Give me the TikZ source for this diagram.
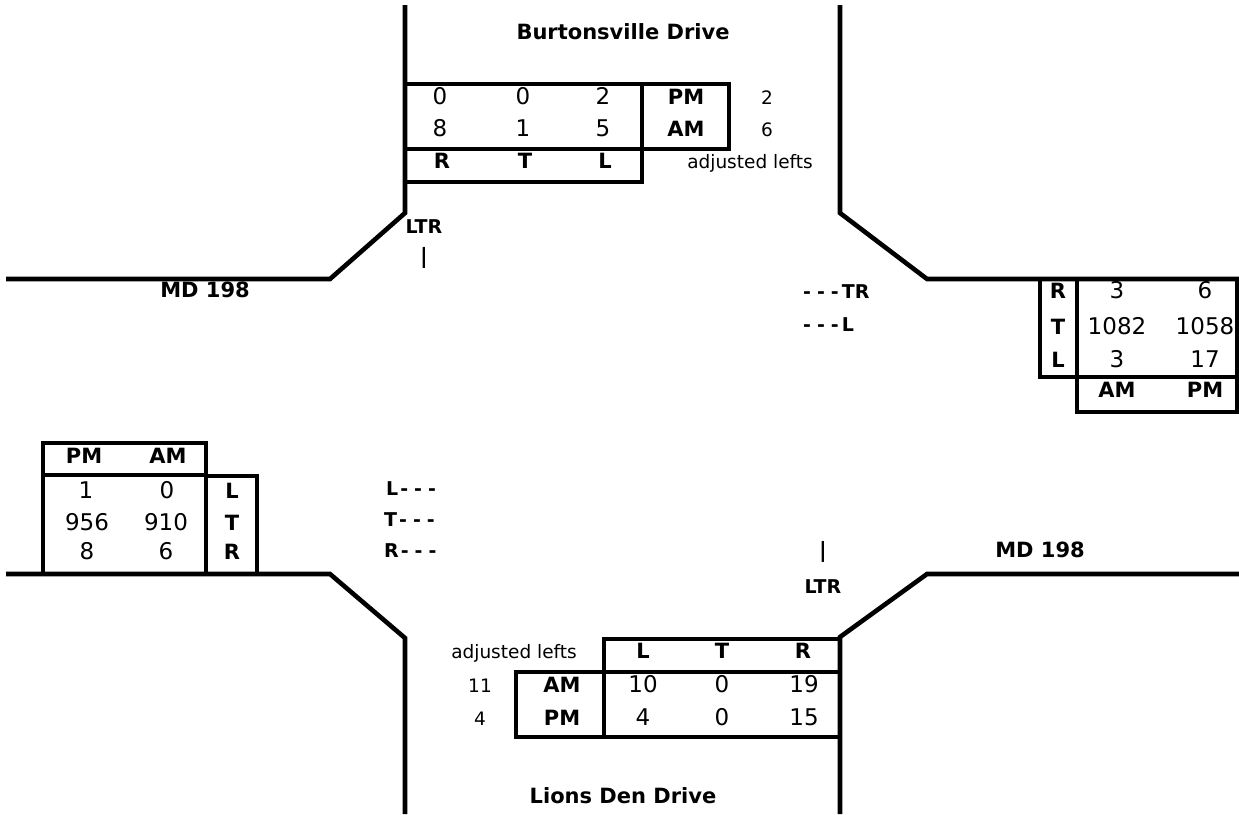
\documentclass[tikz,border=0pt]{standalone}
\usepackage{fontspec}
\setmainfont{DejaVu Sans}
\begin{document}
\begin{tikzpicture}[x=1pt,y=-1pt,
  road/.style={line width=4.6pt},
  tbl/.style={line width=3.3pt},
  txt/.style={inner sep=0pt,anchor=base},
  num/.style={txt,font=\fontsize{23}{23}\selectfont},
  lab/.style={txt,font=\bfseries\fontsize{21}{21}\selectfont},
  sml/.style={txt,font=\fontsize{18.5}{18.5}\selectfont},
  ttl/.style={txt,font=\bfseries\fontsize{21}{21}\selectfont},
  mov/.style={txt,font=\bfseries\fontsize{19}{19}\selectfont},
  bar/.style={inner sep=0pt,anchor=center,font=\bfseries\fontsize{21}{21}\selectfont}]
\useasboundingbox (0,0) rectangle (1239,814);
\fill[white] (0,0) rectangle (1239,814);
% roads
\draw[road] (405,5) -- (405,213) -- (330,279) -- (6,279);
\draw[road] (840,5) -- (840,213) -- (927,279) -- (1239,279);
\draw[road] (6,574) -- (330,574) -- (405,638) -- (405,814);
\draw[road] (1239,574) -- (927,574) -- (840,637) -- (840,814);
% top table
\draw[tbl] (405,84) rectangle (729,149);
\draw[tbl] (405,149) rectangle (642,182);
\draw[tbl] (642,84) -- (642,149);
% right table
\draw[tbl] (1040,279) -- (1040,377) -- (1237,377);
\draw[tbl] (1077,279) -- (1077,412) -- (1237,412) -- (1237,279);
% left table
\draw[tbl] (43,443) rectangle (206,475);
\draw[tbl] (43,475) -- (43,574);
\draw[tbl] (206,475) -- (206,574);
\draw[tbl] (206,476) -- (257,476) -- (257,574);
% bottom table
\draw[tbl] (604,639) rectangle (840,672);
\draw[tbl] (516,672) rectangle (840,737);
\draw[tbl] (604,672) -- (604,737);
% top texts
\node[ttl] (nname) at (623,39) {Burtonsville Drive};
\node[num] (n11) at (440,104) {0};
\node[num] (n12) at (523,104) {0};
\node[num] (n13) at (603,104) {2};
\node[lab] (n14) at (686,104) {PM};
\node[sml] (n15) at (767,104) {2};
\node[num] (n21) at (440,136) {8};
\node[num] (n22) at (523,136) {1};
\node[num] (n23) at (603,136) {5};
\node[lab] (n24) at (686,136) {AM};
\node[sml] (n25) at (767,136) {6};
\node[lab] (n31) at (442,168) {R};
\node[lab] (n32) at (525,168) {T};
\node[lab] (n33) at (605,168) {L};
\node[sml] (n34) at (750,168) {adjusted lefts};
\node[mov] (nltr) at (424,233) {LTR};
\node[bar] (nbar) at (424,258) {|};
% west
\node[ttl] (wname) at (205,297) {MD 198};
% east
\node[mov,anchor=base west] (etr) at (803,298) {-\kern6pt-\kern6pt-\kern3pt TR};
\node[mov,anchor=base west] (el) at (803,331) {-\kern6pt-\kern6pt-\kern3pt L};
\node[lab] (e1) at (1058,298) {R};
\node[lab] (e2) at (1058,334) {T};
\node[lab] (e3) at (1058,367) {L};
\node[num] (e11) at (1117,298) {3};
\node[num] (e12) at (1205,298) {6};
\node[num] (e21) at (1117,334) {1082};
\node[num] (e22) at (1205,334) {1058};
\node[num] (e31) at (1117,367) {3};
\node[num] (e32) at (1205,367) {17};
\node[lab] (e41) at (1117,397) {AM};
\node[lab] (e42) at (1205,397) {PM};
% west table
\node[lab] (w01) at (84,463) {PM};
\node[lab] (w02) at (168,463) {AM};
\node[num] (w11) at (86,498) {1};
\node[num] (w12) at (167,498) {0};
\node[lab] (w13) at (232,498) {L};
\node[num] (w21) at (87,530) {956};
\node[num] (w22) at (166,530) {910};
\node[lab] (w23) at (232,530) {T};
\node[num] (w31) at (87,559) {8};
\node[num] (w32) at (166,559) {6};
\node[lab] (w33) at (232,559) {R};
\node[mov,anchor=base west] (wl) at (386,495) {L\kern2pt-\kern6pt-\kern6pt-};
\node[mov,anchor=base west] (wt) at (384,526) {T\kern2pt-\kern6pt-\kern6pt-};
\node[mov,anchor=base west] (wr) at (384,557) {R\kern2pt-\kern6pt-\kern6pt-};
% south east
\node[bar] (sbar) at (823,552) {|};
\node[mov] (sltr) at (823,593) {LTR};
\node[ttl] (ename) at (1040,557) {MD 198};
% bottom table
\node[sml] (s01) at (514,658) {adjusted lefts};
\node[lab] (s02) at (643,658) {L};
\node[lab] (s03) at (722,658) {T};
\node[lab] (s04) at (803,658) {R};
\node[sml] (s11) at (480,692) {11};
\node[lab] (s12) at (562,692) {AM};
\node[num] (s13) at (643,692) {10};
\node[num] (s14) at (722,692) {0};
\node[num] (s15) at (804,692) {19};
\node[sml] (s21) at (480,725) {4};
\node[lab] (s22) at (562,725) {PM};
\node[num] (s23) at (643,725) {4};
\node[num] (s24) at (722,725) {0};
\node[num] (s25) at (804,725) {15};
\node[ttl] (sname) at (623,803) {Lions Den Drive};
\end{tikzpicture}
\end{document}
